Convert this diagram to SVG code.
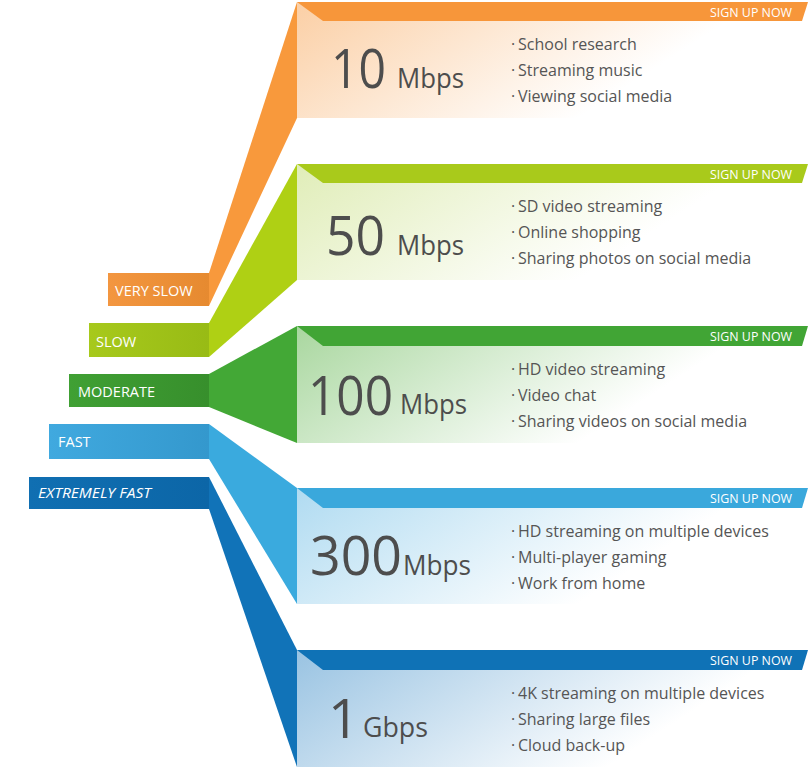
<svg xmlns="http://www.w3.org/2000/svg" width="810" height="770" viewBox="0 0 810 770">
<defs>
<style>
.num{font-family:"Open Sans","Liberation Sans",sans-serif;font-size:55px;fill:#4d4d4d}
.unit{font-family:"Open Sans","Liberation Sans",sans-serif;font-size:27px;fill:#4d4d4d}
.bul{font-family:"Open Sans","Liberation Sans",sans-serif;font-size:16px;fill:#555}
.sign{font-family:"Open Sans","Liberation Sans",sans-serif;font-size:13.5px;fill:#fff}
.lab{font-family:"Open Sans","Liberation Sans",sans-serif;font-size:14.5px;fill:#fff}
</style>
<linearGradient id="bOr" x1="0" y1="0" x2="1" y2="0.35"><stop offset="0" stop-color="#fbcfa5"/><stop offset="0.8" stop-color="#fff"/></linearGradient>
<linearGradient id="bYg" x1="0" y1="0" x2="1" y2="0.35"><stop offset="0" stop-color="#e0edb8"/><stop offset="0.8" stop-color="#fff"/></linearGradient>
<linearGradient id="bGr" x1="0" y1="0" x2="1" y2="0.35"><stop offset="0" stop-color="#a9d79f"/><stop offset="0.8" stop-color="#fff"/></linearGradient>
<linearGradient id="bLb" x1="0" y1="0" x2="1" y2="0.35"><stop offset="0" stop-color="#b0dbf1"/><stop offset="0.8" stop-color="#fff"/></linearGradient>
<linearGradient id="bDb" x1="0" y1="0" x2="1" y2="0.35"><stop offset="0" stop-color="#99c3e2"/><stop offset="0.85" stop-color="#fff"/></linearGradient>
<linearGradient id="kOr" x1="0" x2="1"><stop offset="0" stop-color="#f39640"/><stop offset="1" stop-color="#e68a30"/></linearGradient>
<linearGradient id="kYg" x1="0" x2="1"><stop offset="0" stop-color="#a7c91c"/><stop offset="1" stop-color="#98bb15"/></linearGradient>
<linearGradient id="kGr" x1="0" x2="1"><stop offset="0" stop-color="#40a034"/><stop offset="1" stop-color="#378f2c"/></linearGradient>
<linearGradient id="kLb" x1="0" x2="1"><stop offset="0" stop-color="#40a9df"/><stop offset="1" stop-color="#3498cd"/></linearGradient>
<linearGradient id="kDb" x1="0" x2="1"><stop offset="0" stop-color="#106fb2"/><stop offset="1" stop-color="#0c66a7"/></linearGradient>
</defs>
<rect width="810" height="770" fill="#fff"/>

<g id="connectors">
<polygon points="209,273 297,2 297,118 209,306" fill="#f8993c"/>
<polygon points="209,323 297,164 297,280 209,357" fill="#afd014"/>
<polygon points="209,374 297,326 297,443 209,407" fill="#43a836"/>
<polygon points="209,424 297,488 297,604 209,459" fill="#3aaade"/>
<polygon points="209,477 297,650 297,767 209,509" fill="#1173b8"/>
</g>

<g id="label-very-slow">
<rect x="108" y="273" width="101" height="33" fill="url(#kOr)"/>
<text class="lab" x="115" y="296">VERY SLOW</text>
</g>
<g id="label-slow">
<rect x="89" y="323" width="120" height="34" fill="url(#kYg)"/>
<text class="lab" x="96" y="347">SLOW</text>
</g>
<g id="label-moderate">
<rect x="69" y="374" width="140" height="33" fill="url(#kGr)"/>
<text class="lab" x="78" y="397">MODERATE</text>
</g>
<g id="label-fast">
<rect x="49" y="424" width="160" height="35" fill="url(#kLb)"/>
<text class="lab" x="58" y="447">FAST</text>
</g>
<g id="label-extremely-fast">
<rect x="29" y="477" width="180" height="32" fill="url(#kDb)"/>
<text class="lab" x="38" y="498" font-style="italic" textLength="113" lengthAdjust="spacingAndGlyphs">EXTREMELY FAST</text>
</g>

<g id="panel-10mbps">
<rect x="297" y="2" width="513" height="116" fill="url(#bOr)"/>
<polygon points="297,2 808,2 802,21 323,21" fill="#f7963a"/>
<text class="sign" x="792" y="17" text-anchor="end" textLength="82" lengthAdjust="spacingAndGlyphs">SIGN UP NOW</text>
<text class="num" x="331" y="88" textLength="55" lengthAdjust="spacingAndGlyphs">10</text>
<text class="unit" x="397" y="88" textLength="67" lengthAdjust="spacingAndGlyphs">Mbps</text>
<text class="bul" x="511" y="50">·<tspan x="518">School research</tspan></text>
<text class="bul" x="511" y="76">·<tspan x="518">Streaming music</tspan></text>
<text class="bul" x="511" y="102">·<tspan x="518">Viewing social media</tspan></text>
</g>

<g id="panel-50mbps">
<rect x="297" y="164" width="513" height="116" fill="url(#bYg)"/>
<polygon points="297,164 808,164 802,183 323,183" fill="#a9ca1b"/>
<text class="sign" x="792" y="179" text-anchor="end" textLength="82" lengthAdjust="spacingAndGlyphs">SIGN UP NOW</text>
<text class="num" x="326" y="255" textLength="59" lengthAdjust="spacingAndGlyphs">50</text>
<text class="unit" x="397" y="255" textLength="67" lengthAdjust="spacingAndGlyphs">Mbps</text>
<text class="bul" x="511" y="212">·<tspan x="518">SD video streaming</tspan></text>
<text class="bul" x="511" y="238">·<tspan x="518">Online shopping</tspan></text>
<text class="bul" x="511" y="264">·<tspan x="518">Sharing photos on social media</tspan></text>
</g>

<g id="panel-100mbps">
<rect x="297" y="326" width="513" height="117" fill="url(#bGr)"/>
<polygon points="297,326 808,326 802,346 323,346" fill="#41a535"/>
<text class="sign" x="792" y="341" text-anchor="end" textLength="82" lengthAdjust="spacingAndGlyphs">SIGN UP NOW</text>
<text class="num" x="308" y="415" textLength="85" lengthAdjust="spacingAndGlyphs">100</text>
<text class="unit" x="400" y="414" textLength="67" lengthAdjust="spacingAndGlyphs">Mbps</text>
<text class="bul" x="511" y="375">·<tspan x="518">HD video streaming</tspan></text>
<text class="bul" x="511" y="401">·<tspan x="518">Video chat</tspan></text>
<text class="bul" x="511" y="427">·<tspan x="518">Sharing videos on social media</tspan></text>
</g>

<g id="panel-300mbps">
<rect x="297" y="488" width="513" height="116" fill="url(#bLb)"/>
<polygon points="297,488 808,488 802,508 323,508" fill="#3aa8dc"/>
<text class="sign" x="792" y="503" text-anchor="end" textLength="82" lengthAdjust="spacingAndGlyphs">SIGN UP NOW</text>
<text class="num" x="310" y="575" textLength="92" lengthAdjust="spacingAndGlyphs">300</text>
<text class="unit" x="403" y="575" textLength="68" lengthAdjust="spacingAndGlyphs">Mbps</text>
<text class="bul" x="511" y="537">·<tspan x="518">HD streaming on multiple devices</tspan></text>
<text class="bul" x="511" y="563">·<tspan x="518">Multi-player gaming</tspan></text>
<text class="bul" x="511" y="589">·<tspan x="518">Work from home</tspan></text>
</g>

<g id="panel-1gbps">
<rect x="297" y="650" width="513" height="117" fill="url(#bDb)"/>
<polygon points="297,650 808,650 802,670 323,670" fill="#0f72b6"/>
<text class="sign" x="792" y="665" text-anchor="end" textLength="82" lengthAdjust="spacingAndGlyphs">SIGN UP NOW</text>
<text class="num" x="328" y="738">1</text>
<text class="unit" x="363" y="737" textLength="65" lengthAdjust="spacingAndGlyphs">Gbps</text>
<text class="bul" x="511" y="699">·<tspan x="518">4K streaming on multiple devices</tspan></text>
<text class="bul" x="511" y="725">·<tspan x="518">Sharing large files</tspan></text>
<text class="bul" x="511" y="751">·<tspan x="518">Cloud back-up</tspan></text>
</g>
</svg>
